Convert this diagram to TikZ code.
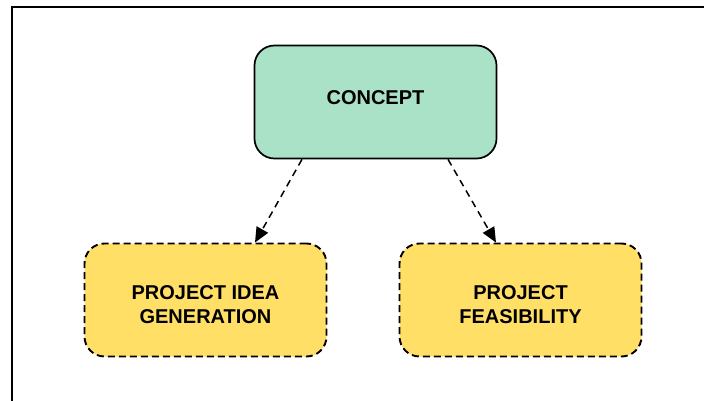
\documentclass[tikz,border=0pt]{standalone}
\usepackage{fontspec}
\setmainfont{Liberation Sans}
\usetikzlibrary{arrows.meta}
\definecolor{conceptgreen}{RGB}{169,226,198}
\definecolor{stageyellow}{RGB}{255,223,102}
\tikzset{
  box/.style={rounded corners=20pt, minimum width=242pt, minimum height=113pt,
    align=center, font=\fontsize{20}{24}\selectfont\bfseries, inner sep=0pt},
  conceptbox/.style={box, draw=black, line width=1.7pt, fill=conceptgreen},
  stagebox/.style={box, draw=black, line width=1.9pt, fill=stageyellow,
    dash pattern=on 7pt off 4pt},
  link/.style={line width=1.5pt, dash pattern=on 7pt off 5pt,
    -{Triangle[length=15pt,width=13pt]}},
  frame/.style={line width=2pt, draw=black}
}
% move the printed text without changing the box size used for centring
\newcommand{\shifttext}[2]{\raisebox{#1}[\height][\depth]{#2}}
\newcommand{\twolines}[2]{\shifttext{-7pt}{\begin{tabular}{@{}c@{}}#1\\#2\end{tabular}}}
\begin{document}
\begin{tikzpicture}[x=1pt,y=-1pt]
  \useasboundingbox (0,0) rectangle (704,401);
  % outer frame (open on the right and bottom)
  \coordinate (fbl) at (11.5,401);
  \coordinate (ftl) at (11.5,7.5);
  \coordinate (ftr) at (704,7.5);
  \draw[frame] (fbl) -- (ftl) -- (ftr);

  \node[conceptbox] (concept) at (375.5,102) {\shifttext{4pt}{CONCEPT}};
  \node[stagebox] (idea) at (205.5,300) {\twolines{PROJECT IDEA}{GENERATION}};
  \node[stagebox] (feas) at (520.5,300) {\twolines{PROJECT}{FEASIBILITY}};

  \draw[link] ([xshift=-73.5pt]concept.south) -- ([xshift=49.5pt]idea.north);
  \draw[link] ([xshift=72.5pt]concept.south) -- ([xshift=-24.5pt]feas.north);
\end{tikzpicture}
\end{document}
